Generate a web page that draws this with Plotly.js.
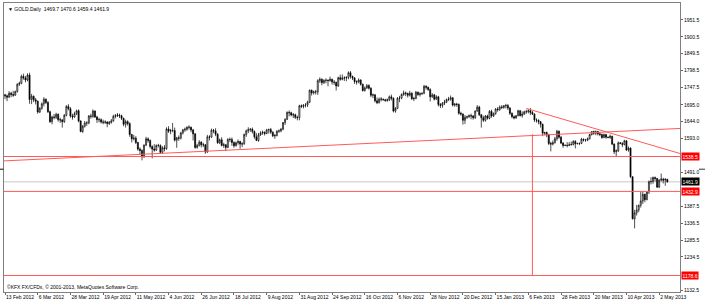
<!DOCTYPE html>
<html>
<head>
<meta charset="utf-8">
<script src="https://cdn.plot.ly/plotly-3.0.1.min.js"></script>
<style>
html,body{margin:0;padding:0;background:#fff;}
#chart{width:708px;height:303px;}
</style>
</head>
<body>
<div id="chart"></div>
<script>
// ---- DATA (GOLD Daily, one bar per trading session) ----
const open = [
1725,1722,1718,1730,1726,1724,1735,1757,1760,1781,1776,1770,1785,1711,1721,1710,
1706,1673,1684,1698,1712,1702,1674,1644,1658,1657,1666,1650,1649,1644,1663,1690,
1683,1661,1658,1668,1677,1646,1614,1630,1640,1640,1661,1660,1676,1658,1650,1650,
1643,1642,1643,1638,1642,1646,1660,1662,1664,1662,1654,1636,1644,1638,1605,1592,
1594,1581,1561,1557,1538,1573,1592,1587,1569,1561,1558,1572,1572,1551,1565,1562,
1622,1615,1617,1617,1588,1595,1594,1610,1619,1621,1627,1627,1619,1607,1566,1572,
1582,1574,1574,1552,1598,1597,1618,1616,1606,1580,1589,1572,1574,1566,1590,1590,
1581,1571,1580,1584,1576,1577,1605,1616,1620,1621,1614,1598,1587,1604,1610,1612,
1608,1619,1620,1612,1601,1602,1615,1616,1621,1641,1651,1672,1671,1664,1665,1657,
1656,1692,1690,1694,1694,1703,1739,1731,1734,1734,1768,1772,1762,1769,1769,1768,
1772,1764,1763,1752,1777,1772,1776,1776,1778,1792,1781,1776,1765,1764,1770,1757,
1738,1746,1753,1745,1724,1725,1707,1701,1712,1712,1710,1708,1710,1719,1715,1676,
1684,1715,1715,1726,1731,1729,1724,1730,1713,1714,1733,1726,1728,1730,1751,1748,
1741,1719,1725,1712,1719,1696,1693,1700,1703,1711,1712,1716,1694,1697,1696,1669,
1667,1648,1657,1659,1662,1661,1656,1676,1688,1665,1656,1648,1661,1654,1675,1661,
1668,1682,1680,1688,1687,1692,1693,1685,1669,1659,1655,1662,1677,1662,1667,1674,
1674,1677,1672,1667,1649,1648,1644,1636,1609,1611,1604,1578,1576,1580,1592,1615,
1597,1579,1572,1572,1572,1574,1575,1584,1577,1578,1578,1591,1588,1588,1592,1605,
1614,1609,1614,1607,1605,1596,1605,1597,1596,1600,1576,1553,1556,1580,1578,1575,
1586,1558,1564,1477,1350,1368,1377,1391,1404,1424,1408,1431,1462,1463,1475,1472,
1446,1467,1470,1467,1469.7];
const high = [
1728,1726,1736,1734,1737,1738,1760,1765,1786,1789,1782,1790,1792,1728,1723,1716,
1708,1688,1702,1718,1714,1706,1677,1662,1667,1671,1669,1656,1652,1667,1694,1697,
1688,1668,1674,1680,1681,1648,1634,1646,1645,1664,1668,1681,1678,1662,1656,1654,
1650,1648,1645,1646,1652,1665,1667,1670,1668,1665,1656,1650,1648,1642,1607,1604,
1600,1583,1566,1560,1575,1598,1596,1590,1572,1576,1575,1577,1575,1570,1573,1627,
1630,1622,1640,1626,1598,1602,1613,1622,1626,1630,1633,1629,1622,1609,1577,1588,
1585,1580,1576,1604,1603,1623,1622,1624,1609,1593,1597,1580,1576,1594,1596,1596,
1584,1584,1590,1586,1582,1608,1620,1627,1625,1626,1617,1609,1610,1615,1617,1614,
1622,1623,1625,1615,1607,1618,1620,1625,1643,1654,1675,1678,1674,1670,1668,1662,
1695,1696,1697,1700,1707,1741,1741,1738,1740,1772,1778,1775,1772,1775,1772,1780,
1774,1770,1765,1780,1786,1787,1781,1781,1796,1797,1783,1779,1769,1775,1772,1759,
1750,1758,1757,1748,1729,1727,1717,1717,1718,1714,1713,1714,1723,1726,1717,1688,
1718,1722,1729,1738,1735,1732,1737,1733,1719,1737,1735,1733,1732,1755,1754,1750,
1745,1730,1728,1724,1722,1700,1703,1710,1714,1719,1723,1718,1700,1701,1699,1674,
1669,1664,1662,1666,1668,1664,1678,1694,1692,1667,1662,1664,1665,1679,1680,1672,
1685,1688,1693,1694,1694,1698,1697,1688,1672,1663,1664,1680,1679,1675,1677,1680,
1681,1685,1676,1669,1654,1651,1646,1638,1613,1614,1607,1583,1587,1598,1619,1617,
1601,1582,1575,1582,1582,1584,1588,1588,1580,1581,1595,1593,1592,1596,1607,1615,
1617,1617,1616,1612,1608,1608,1607,1599,1605,1601,1578,1560,1584,1582,1582,1589,
1588,1569,1566,1479,1377,1392,1393,1432,1433,1426,1432,1466,1476,1478,1478,1474,
1470,1487,1474,1473,1470.6];
const low = [
1712,1706,1716,1718,1719,1722,1732,1752,1757,1771,1763,1766,1698,1697,1703,1696,
1668,1670,1680,1690,1697,1670,1640,1636,1651,1652,1644,1640,1626,1640,1660,1678,
1656,1650,1656,1664,1642,1612,1610,1626,1631,1636,1653,1655,1655,1640,1642,1638,
1636,1637,1627,1634,1638,1644,1654,1658,1655,1649,1630,1626,1632,1598,1581,1587,
1576,1556,1545,1527,1534,1570,1580,1563,1533,1553,1555,1566,1547,1547,1554,1559,
1610,1606,1612,1584,1565,1586,1590,1605,1613,1616,1620,1612,1587,1562,1562,1569,
1566,1567,1547,1550,1587,1595,1609,1600,1577,1576,1569,1565,1555,1564,1582,1571,
1565,1569,1574,1562,1567,1574,1598,1609,1613,1608,1592,1585,1583,1601,1604,1602,
1606,1608,1607,1597,1592,1599,1610,1612,1618,1634,1649,1660,1660,1655,1652,1648,
1648,1685,1684,1687,1688,1700,1723,1726,1726,1725,1761,1754,1758,1760,1751,1765,
1756,1755,1738,1749,1768,1769,1767,1766,1772,1774,1770,1758,1756,1760,1753,1735,
1735,1743,1741,1718,1715,1702,1697,1699,1705,1708,1704,1704,1706,1708,1672,1671,
1682,1703,1712,1722,1721,1717,1720,1710,1706,1712,1722,1720,1725,1727,1741,1737,
1705,1716,1708,1710,1690,1685,1686,1694,1700,1706,1707,1690,1689,1689,1665,1662,
1635,1637,1652,1655,1651,1650,1652,1674,1661,1626,1643,1644,1650,1651,1656,1658,
1665,1674,1677,1682,1683,1684,1679,1664,1654,1651,1653,1660,1660,1656,1664,1668,
1669,1664,1664,1643,1641,1636,1626,1600,1603,1597,1573,1554,1572,1578,1586,1592,
1576,1565,1570,1566,1570,1572,1572,1563,1575,1573,1576,1584,1583,1585,1590,1602,
1604,1603,1602,1600,1592,1594,1592,1594,1592,1573,1546,1538,1552,1576,1567,1572,
1555,1553,1474,1348,1321,1360,1370,1384,1395,1400,1406,1425,1454,1456,1463,1443,
1443,1463,1457,1450,1459.4];
const close = [
1722,1718,1730,1726,1724,1735,1757,1760,1781,1776,1770,1785,1711,1721,1710,1706,
1673,1684,1698,1712,1702,1674,1644,1658,1657,1666,1650,1649,1644,1663,1690,1683,
1661,1658,1668,1677,1646,1614,1630,1640,1640,1661,1660,1676,1658,1650,1650,1643,
1642,1643,1638,1642,1646,1660,1662,1664,1662,1654,1636,1644,1638,1605,1592,1594,
1581,1561,1557,1538,1573,1592,1587,1569,1561,1558,1572,1572,1551,1565,1562,1622,
1615,1617,1617,1588,1595,1594,1610,1619,1621,1627,1627,1619,1607,1566,1572,1582,
1574,1574,1552,1598,1597,1618,1616,1606,1580,1589,1572,1574,1566,1590,1590,1581,
1571,1580,1584,1576,1577,1605,1616,1620,1621,1614,1598,1587,1604,1610,1612,1608,
1619,1620,1612,1601,1602,1615,1616,1621,1641,1651,1672,1671,1664,1665,1657,1656,
1692,1690,1694,1694,1703,1739,1731,1734,1734,1768,1772,1762,1769,1769,1768,1772,
1764,1763,1752,1777,1772,1776,1776,1778,1792,1781,1776,1765,1764,1770,1757,1738,
1746,1753,1745,1724,1725,1707,1701,1712,1712,1710,1708,1710,1719,1715,1676,1684,
1715,1715,1726,1731,1729,1724,1730,1713,1714,1733,1726,1728,1730,1751,1748,1741,
1719,1725,1712,1719,1696,1693,1700,1703,1711,1712,1716,1694,1697,1696,1669,1667,
1648,1657,1659,1662,1661,1656,1676,1688,1665,1656,1648,1661,1654,1675,1661,1668,
1682,1680,1688,1687,1692,1693,1685,1669,1659,1655,1662,1677,1662,1667,1674,1674,
1677,1672,1667,1649,1648,1644,1636,1609,1611,1604,1578,1576,1580,1592,1615,1597,
1579,1572,1572,1572,1574,1575,1584,1577,1578,1578,1591,1588,1588,1592,1605,1614,
1609,1614,1607,1605,1596,1605,1597,1596,1600,1576,1553,1556,1580,1578,1575,1586,
1558,1564,1477,1350,1368,1377,1391,1404,1424,1408,1431,1462,1463,1475,1472,1446,
1467,1470,1467,1469.5,1461.9];

// date labels every 16 bars
const dateLabels = ['13 Feb 2012','6 Mar 2012','28 Mar 2012','19 Apr 2012','11 May 2012','4 Jun 2012',
  '26 Jun 2012','18 Jul 2012','9 Aug 2012','31 Aug 2012','24 Sep 2012','16 Oct 2012','6 Nov 2012',
  '28 Nov 2012','20 Dec 2012','15 Jan 2013','6 Feb 2013','28 Feb 2013','20 Mar 2013','10 Apr 2013','2 May 2013'];
const dateBars = [0,16,32,48,64,80,96,112,128,144,160,176,192,208,224,240,256,272,288,304,320];

// price axis labels
const priceTicks = [1132.5,1234.5,1285.5,1336.5,1387.5,1491.0,1593.0,1644.0,1695.0,1747.5,1798.5,1849.5,1900.5,1951.5];

// drawn objects
const levels = [1538.5, 1432.9, 1178.6];          // horizontal red lines
const bidPrice = 1461.9;                          // current price line
const supportX = [-0.5, 330.2], supportY = [1525.2, 1623.4];   // rising trend line
const resistX = [255, 330.2],  resistY = [1684, 1547.6];       // falling trend line
const vlineX = 258, vlineY = [1178.6, 1606];                   // vertical line
const markerPrice = 1500;                                      // small side dash markers

const symbol = 'GOLD.Daily';
const copyright = '\u00A9KFX FX/CFDs, \u00A9 2001-2013, MetaQuotes Software Corp.';

// ---- CHART ----
const FONT = 'Liberation Sans, Arial, sans-serif';
const FS = 5;
const RED = '#ff5a5a';
const n = close.length;
const xIdx = close.map((_, i) => i);

const trace = {
  type: 'candlestick', x: xIdx, open: open, high: high, low: low, close: close,
  increasing: {line: {color: '#000', width: 0.7}, fillcolor: '#ffffff'},
  decreasing: {line: {color: '#000', width: 0.7}, fillcolor: '#000000'},
  whiskerwidth: 0, hoverinfo: 'skip', showlegend: false
};

const xMin = -0.5, xMax = 330.2;
const shapes = [];
levels.forEach(v => shapes.push({type:'line', xref:'x', yref:'y', x0:xMin, x1:xMax, y0:v, y1:v,
  line:{color:RED, width:1}, layer:'above'}));
shapes.push({type:'line', xref:'x', yref:'y', x0:xMin, x1:xMax, y0:bidPrice, y1:bidPrice,
  line:{color:'#c8c8c8', width:1}, layer:'below'});
shapes.push({type:'line', xref:'x', yref:'y', x0:supportX[0], x1:supportX[1], y0:supportY[0], y1:supportY[1],
  line:{color:RED, width:1}});
shapes.push({type:'line', xref:'x', yref:'y', x0:resistX[0], x1:resistX[1], y0:resistY[0], y1:resistY[1],
  line:{color:RED, width:1}});
shapes.push({type:'line', xref:'x', yref:'y', x0:vlineX, x1:vlineX, y0:vlineY[0], y1:vlineY[1],
  line:{color:RED, width:1}});
// small dash markers outside the frame on both sides
shapes.push({type:'line', xref:'paper', yref:'y', x0:-0.006, x1:-0.0005, y0:markerPrice, y1:markerPrice,
  line:{color:'#333', width:1.2}});
shapes.push({type:'line', xref:'paper', yref:'y', x0:1.028, x1:1.037, y0:markerPrice, y1:markerPrice,
  line:{color:'#555', width:1.2}});

const annotations = [];
levels.forEach(v => annotations.push({xref:'paper', yref:'y', x:1, y:v, xanchor:'left', yanchor:'middle',
  xshift:1, text:v.toFixed(1), showarrow:false, bgcolor:'#ff0000', borderpad:0.5,
  font:{family:FONT, size:FS, color:'#ffffff'}}));
annotations.push({xref:'paper', yref:'y', x:1, y:bidPrice, xanchor:'left', yanchor:'middle',
  xshift:1, text:bidPrice.toFixed(1), showarrow:false, bgcolor:'#000000', borderpad:0.5,
  font:{family:FONT, size:FS, color:'#ffffff'}});
const last = n - 1;
annotations.push({xref:'paper', yref:'paper', x:0, y:1, xanchor:'left', yanchor:'top', xshift:2, yshift:-1,
  text:'\u25BC ' + symbol + '  ' + [open[last], high[last], low[last], close[last]].map(v => v.toFixed(1)).join(' '),
  showarrow:false, font:{family:FONT, size:FS, color:'#000'}});
annotations.push({xref:'paper', yref:'paper', x:0, y:0, xanchor:'left', yanchor:'bottom', xshift:1, yshift:0,
  text:copyright, showarrow:false, font:{family:FONT, size:FS, color:'#000'}});

const layout = {
  width: 708, height: 303,
  margin: {l: 4, r: 28, t: 3, b: 11, pad: 0},
  paper_bgcolor: '#ffffff', plot_bgcolor: '#ffffff',
  showlegend: false,
  xaxis: {
    type: 'linear', range: [xMin, xMax], rangeslider: {visible: false},
    tickmode: 'array', tickvals: dateBars, ticktext: dateLabels,
    tickangle: 0, ticklabelposition: 'outside right', ticklabelstandoff: 0,
    ticks: 'outside', ticklen: 2, tickcolor: '#666', tickwidth: 1,
    showline: true, linecolor: '#808080', linewidth: 1, mirror: true,
    showgrid: false, zeroline: false, fixedrange: true, automargin: false,
    tickfont: {family: FONT, size: FS, color: '#000'}
  },
  yaxis: {
    side: 'right', range: [1128.6, 2002.9],
    tickmode: 'array', tickvals: priceTicks, ticktext: priceTicks.map(v => v.toFixed(1)),
    ticks: 'outside', ticklen: 2, tickcolor: '#666', tickwidth: 1,
    showline: true, linecolor: '#808080', linewidth: 1, mirror: true,
    showgrid: false, zeroline: false, fixedrange: true, automargin: false,
    tickfont: {family: FONT, size: FS, color: '#000'}
  },
  shapes: shapes,
  annotations: annotations
};

Plotly.newPlot('chart', [trace], layout, {staticPlot: true, displayModeBar: false});
</script>
</body>
</html>
